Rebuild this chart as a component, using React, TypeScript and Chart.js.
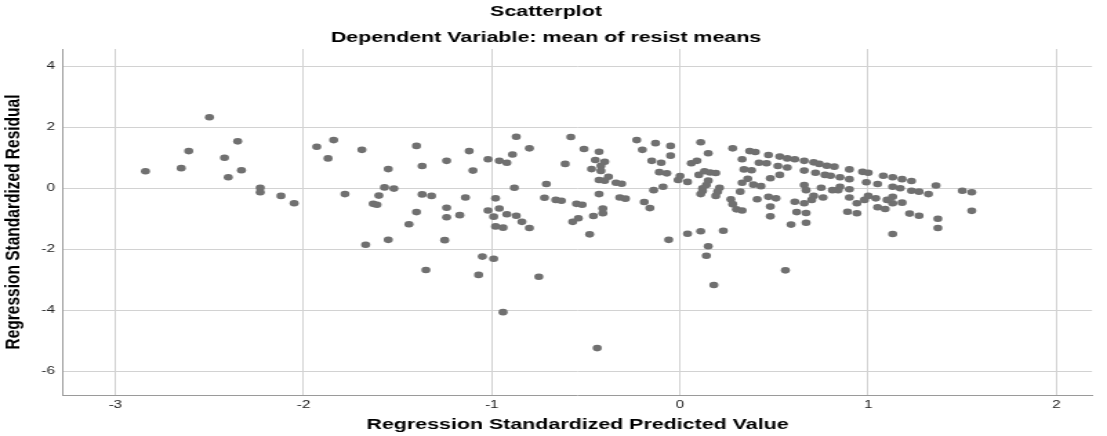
import React, { useEffect, useRef } from "react";
import { Chart, registerables } from "chart.js";

Chart.register(...registerables);

const chartTitle = "Scatterplot";
const chartSubtitle = "Dependent Variable: mean of resist means";
const xAxisTitle = "Regression Standardized Predicted Value";
const yAxisTitle = "Regression Standardized Residual";

const xTicks = [-3, -2, -1, 0, 1, 2];
const yTicks = [-6, -4, -2, 0, 2, 4];

const predicted = [
  -2.5, -2.35, -2.61, -2.42, -2.84, -2.65, -2.33, -2.4, -2.23, -2.23, -2.12, -2.05,
  -1.93, -1.84, -1.87, -1.69, -1.4, -1.55, -1.37, -1.24, -1.12, -1.1, -1.02, -0.96,
  -0.92, -0.89, -0.87, -0.8, -0.71, -0.88, -1.78, -1.57, -1.52, -1.6, -1.63, -1.61,
  -1.37, -1.32, -1.14, -0.98, -1.4, -1.24, -1.24, -1.17, -1.44, -1.02, -0.96, -0.99,
  -0.92, -0.87, -0.84, -0.8, -0.98, -0.94, -0.72, -0.66, -1.67, -1.55, -1.25, -1.05,
  -0.99, -1.35, -1.07, -0.75, -0.94, -0.44,
  -0.58, -0.51, -0.43, -0.61, -0.45, -0.4, -0.47, -0.42, -0.42, -0.38, -0.43, -0.4,
  -0.34, -0.31, -0.63, -0.43, -0.55, -0.52, -0.32, -0.29, -0.41, -0.41, -0.46, -0.54,
  -0.57, -0.48, -0.23, -0.2, -0.13, -0.05, -0.05, -0.15, -0.1, -0.11, -0.07, 0.0,
  -0.01, 0.04, -0.09, -0.14, -0.19, -0.16, -0.06, 0.04, 0.11, 0.23, 0.15, 0.14,
  0.18, 0.11, 0.15, 0.06, 0.09, 0.1, 0.13, 0.16, 0.19, 0.15, 0.12, 0.12,
  0.11, 0.14, 0.21, 0.2, 0.19, 0.27, 0.28, 0.3, 0.33, 0.28, 0.33, 0.37,
  0.4, 0.34, 0.38, 0.36, 0.33, 0.32, 0.39, 0.43, 0.42, 0.46, 0.47, 0.53,
  0.57, 0.61, 0.52, 0.57, 0.53, 0.48, 0.41, 0.47, 0.51, 0.48, 0.48, 0.61,
  0.62, 0.59, 0.56,
  0.66, 0.71, 0.74, 0.78, 0.82, 0.66, 0.72, 0.77, 0.8, 0.85, 0.9, 0.9,
  0.97, 1.0, 0.99, 1.05, 1.08, 1.13, 1.18, 1.23, 1.13, 1.17, 1.23, 1.27,
  1.32, 1.36, 1.5, 1.55, 1.55, 1.37, 1.37, 1.27, 1.22, 1.13, 1.18, 1.13,
  1.13, 1.1, 1.09, 1.05, 1.04, 1.0, 0.98, 0.94, 0.94, 0.89, 0.9, 0.9,
  0.85, 0.84, 0.81, 0.75, 0.76, 0.71, 0.7, 0.66, 0.67, 0.66, 0.67, 0.67,
];

const residual = [
  2.33, 1.54, 1.22, 1.0, 0.56, 0.66, 0.59, 0.36, 0.02, -0.13, -0.25, -0.49,
  1.36, 1.58, 0.98, 1.26, 1.39, 0.63, 0.73, 0.9, 1.22, 0.58, 0.95, 0.9,
  0.84, 1.11, 1.69, 1.31, 0.14, 0.02, -0.19, 0.03, -0.01, -0.24, -0.51, -0.54,
  -0.2, -0.25, -0.3, -0.33, -0.78, -0.64, -0.95, -0.88, -1.18, -0.73, -0.66, -0.93,
  -0.85, -0.9, -1.1, -1.3, -1.25, -1.29, -0.31, -0.38, -1.85, -1.69, -1.7, -2.24,
  -2.31, -2.68, -2.84, -2.9, -4.06, -5.24,
  1.68, 1.29, 1.2, 0.8, 0.93, 0.87, 0.63, 0.74, 0.57, 0.38, 0.27, 0.25,
  0.18, 0.15, -0.41, -0.19, -0.51, -0.54, -0.3, -0.34, -0.66, -0.82, -0.91, -0.98,
  -1.1, -1.51, 1.58, 1.26, 1.48, 1.39, 1.07, 0.9, 0.84, 0.53, 0.49, 0.4,
  0.27, 0.21, 0.05, -0.06, -0.45, -0.65, -1.69, -1.49, -1.41, -1.39, -1.9, -2.21,
  -3.17, 1.51, 1.15, 0.82, 0.9, 0.44, 0.56, 0.52, 0.5, 0.25, 0.0, -0.09,
  -0.19, 0.11, 0.02, -0.11, -0.25, -0.36, -0.52, -0.69, -0.73, 1.31, 0.95, 1.22,
  1.19, 0.62, 0.59, 0.31, 0.18, -0.11, 0.12, 0.07, 0.84, 0.82, 1.09, 1.04,
  0.98, 0.95, 0.73, 0.68, 0.44, 0.33, -0.36, -0.28, -0.33, -0.6, -0.92, -0.44,
  -0.78, -1.19, -2.69,
  0.9, 0.85, 0.8, 0.74, 0.71, 0.58, 0.51, 0.44, 0.41, 0.36, 0.62, 0.3,
  0.54, 0.51, 0.2, 0.14, 0.41, 0.36, 0.3, 0.24, 0.05, 0.0, -0.08, -0.11,
  -0.19, 0.09, -0.08, -0.13, -0.74, -1.0, -1.3, -0.9, -0.83, -1.5, -0.47, -0.28,
  -0.49, -0.38, -0.68, -0.62, -0.33, -0.25, -0.38, -0.49, -0.82, -0.77, -0.3, -0.03,
  0.05, -0.06, -0.06, 0.02, -0.3, -0.25, -0.38, 0.11, -0.06, -0.49, -0.81, -1.13,
];

// The reference picture is stretched horizontally; draw narrower and stretch with CSS.
const STRETCH = 1.38;
const OUT_W = 1107;
const OUT_H = 436;
const CANVAS_W = Math.round(OUT_W / STRETCH);

export default function App() {
  const ref = useRef<HTMLCanvasElement>(null);

  useEffect(() => {
    document.body.style.margin = "0";
    const canvas = ref.current!;
    const sx = OUT_W / CANVAS_W;
    const points = predicted.map((x, i) => ({ x, y: residual[i] }));
    const fontFamily = "'Liberation Sans', Arial, sans-serif";

    const chart = new Chart(canvas, {
      type: "scatter",
      data: {
        datasets: [
          {
            data: points,
            backgroundColor: "#707070",
            borderWidth: 0,
            pointRadius: 3.3,
            pointHoverRadius: 3.3,
          },
        ],
      },
      options: {
        responsive: false,
        devicePixelRatio: 1,
        animation: false,
        events: [],
        font: { family: fontFamily },
        layout: { padding: { left: 0, right: CANVAS_W - 1092 / sx, top: 0, bottom: 0 } },
        plugins: {
          legend: { display: false },
          tooltip: { enabled: false },
          title: {
            display: true,
            text: chartTitle,
            color: "#000",
            font: { family: fontFamily, size: 15.5, weight: "bold" },
            padding: { top: 2.7, bottom: 7.4 },
          },
          subtitle: {
            display: true,
            text: chartSubtitle,
            color: "#000",
            font: { family: fontFamily, size: 15.5, weight: "bold" },
            padding: { top: 0, bottom: 1.7 },
          },
        },
        scales: {
          x: {
            type: "linear",
            min: -3.278,
            max: 2.189,
            afterBuildTicks: (s: any) => {
              s.ticks = xTicks.map((v) => ({ value: v }));
            },
            afterFit: (s: any) => {
              s.height = 41;
            },
            ticks: {
              color: "#222",
              font: { family: fontFamily, size: 11 },
              padding: 3,
              maxRotation: 0,
              autoSkip: false,
            },
            grid: { color: "#d2d2d2", lineWidth: 1, drawTicks: false },
            border: { color: "#9a9a9a", width: 1 },
            title: {
              display: true,
              text: xAxisTitle,
              color: "#000",
              font: { family: fontFamily, size: 15.5, weight: "bold" },
              padding: { top: 0, bottom: 1.7 },
            },
          },
          y: {
            type: "linear",
            min: -6.777,
            max: 4.567,
            afterBuildTicks: (s: any) => {
              s.ticks = yTicks.map((v) => ({ value: v }));
            },
            afterFit: (s: any) => {
              s.width = 63 / sx;
            },
            ticks: {
              color: "#222",
              font: { family: fontFamily, size: 11 },
              padding: 5.8,
              autoSkip: false,
            },
            grid: { color: "#d2d2d2", lineWidth: 1, drawTicks: false },
            border: { color: "#9a9a9a", width: 1 },
            title: {
              display: true,
              text: yAxisTitle,
              color: "#000",
              font: { family: fontFamily, size: 15.5, weight: "bold" },
              padding: { top: 0.8, bottom: 0 },
            },
          },
        },
      },
    } as any);

    return () => chart.destroy();
  }, []);

  return (
    <div style={{ position: "absolute", left: 0, top: 0, width: OUT_W, height: OUT_H, background: "#fff" }}>
      <canvas
        ref={ref}
        width={CANVAS_W}
        height={OUT_H}
        style={{ display: "block", width: `${OUT_W}px`, height: `${OUT_H}px` }}
      />
    </div>
  );
}
